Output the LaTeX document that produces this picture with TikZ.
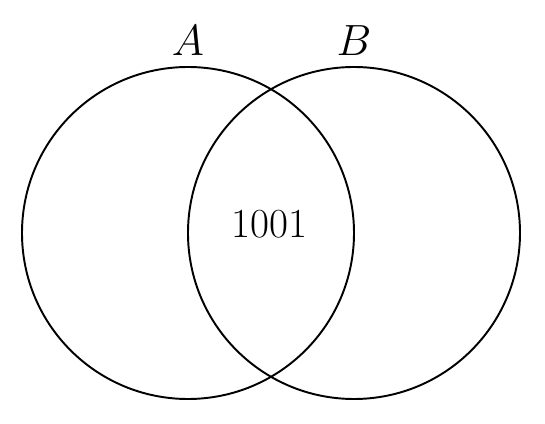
\documentclass[tikz,border=0pt]{standalone}
\usepackage{tikz}
\tikzset{
	setcirc/.style={draw, circle, line width=1.1pt, minimum size=6.64cm, inner sep=0pt},
	setlbl/.style={font=\fontsize{23.5}{28}\selectfont},
}
\begin{document}
\begin{tikzpicture}
	\useasboundingbox (0,0) rectangle (10.9,8.48);
	% Sets
	\node[setcirc] (setA) at (3.76,3.82) {};
	\node[setcirc] (setB) at (7.08,3.82) {};

	% Labels
	\node[setlbl] (lblA) at (3.76,7.66) {$A$};
	\node[setlbl] (lblB) at (7.08,7.66) {$B$};
	\node[setlbl] (both) at (5.39,3.99) {1001};
\end{tikzpicture}
\end{document}
